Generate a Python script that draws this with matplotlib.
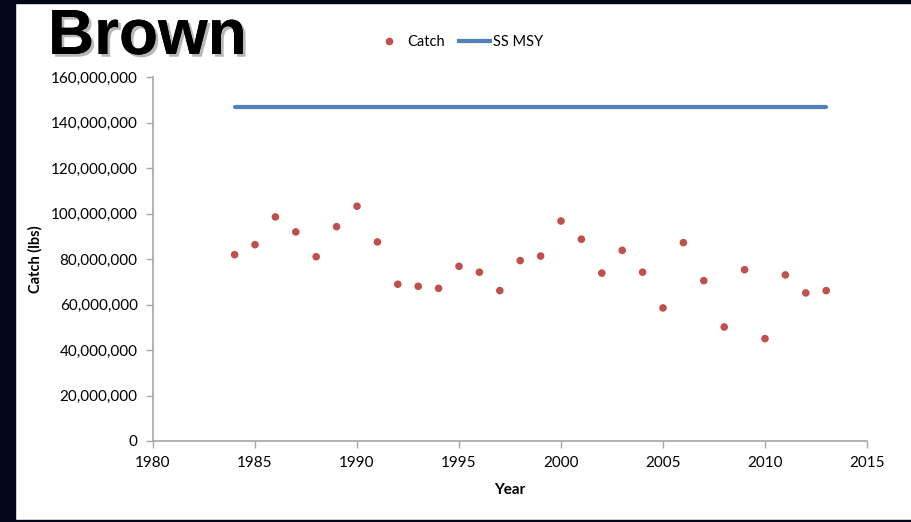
import matplotlib
matplotlib.use("Agg")
import matplotlib.pyplot as plt
from matplotlib.patches import Rectangle
from matplotlib.ticker import FuncFormatter, MultipleLocator
from matplotlib.lines import Line2D
import matplotlib.patheffects as pe

years = list(range(1984, 2014))
catch = [81.9, 86.3, 98.5, 91.9, 81.0, 94.2, 103.2, 87.5, 68.9, 68.0,
         67.1, 76.8, 74.2, 66.1, 79.3, 81.3, 96.7, 88.7, 73.8, 83.8,
         74.2, 58.5, 87.2, 70.5, 50.1, 75.3, 45.0, 73.0, 65.1, 66.1]
catch = [c * 1e6 for c in catch]
msy_value = 146.8e6
msy_years = [1984, 2013]

plt.rcParams['font.family'] = ['Lato', 'DejaVu Sans']

fig = plt.figure(figsize=(9.11, 5.22), dpi=100)
fig.patch.set_facecolor('white')
dark = '#05051a'
fig.patches.append(Rectangle((0, 0), 15/911, 1, transform=fig.transFigure, color=dark, zorder=0))
fig.patches.append(Rectangle((0, 1 - 3/522), 1, 3/522, transform=fig.transFigure, color=dark, zorder=0))
fig.patches.append(Rectangle((0, 0), 1, 2/522, transform=fig.transFigure, color=dark, zorder=0))

ax = fig.add_axes([153/911, 81/522, 714/911, 364/522])
ax.scatter(years, catch, s=30, color='#C0504D', edgecolors='none', zorder=3)
ax.plot(msy_years, [msy_value, msy_value], color='#4F81BD', lw=3, solid_capstyle='round', zorder=2)

ax.set_xlim(1980, 2015)
ax.set_ylim(0, 160e6)
ax.xaxis.set_major_locator(MultipleLocator(5))
ax.yaxis.set_major_locator(MultipleLocator(20e6))
ax.yaxis.set_major_formatter(FuncFormatter(lambda v, p: f"{int(v):,}"))
for s in ['top', 'right']:
    ax.spines[s].set_visible(False)
for s in ['left', 'bottom']:
    ax.spines[s].set_color('#a6a6a6')
    ax.spines[s].set_linewidth(1.2)
ax.tick_params(axis='both', colors='#a6a6a6', labelcolor='black', labelsize=11, length=5, width=1)
ax.tick_params(axis='y', pad=6)
ax.tick_params(axis='x', pad=6)
ax.set_ylabel('Catch (lbs)', fontsize=10.5, fontweight='bold', labelpad=6)
ax.set_xlabel('Year', fontsize=11, fontweight='bold', labelpad=9)

fig.text(48/911, 1 - 37/522, 'Brown', fontsize=46, fontweight='bold', family=['Liberation Sans'],
         va='center', ha='left', color='black',
         path_effects=[pe.withSimplePatchShadow(offset=(2, -2), shadow_rgbFace='#888888', alpha=0.6), pe.Normal()])

handles = [Line2D([], [], marker='o', color='#C0504D', ls='none', markersize=4.5),
           Line2D([], [], color='#4F81BD', lw=3)]
fig.legend(handles, ['Catch', 'SS MSY'], loc='center', bbox_to_anchor=(458/911, 1 - 42/522),
           ncol=2, frameon=False, fontsize=10.5, handlelength=2.1, columnspacing=1.0, handletextpad=0.2)

fig.savefig('out.png', dpi=100)
